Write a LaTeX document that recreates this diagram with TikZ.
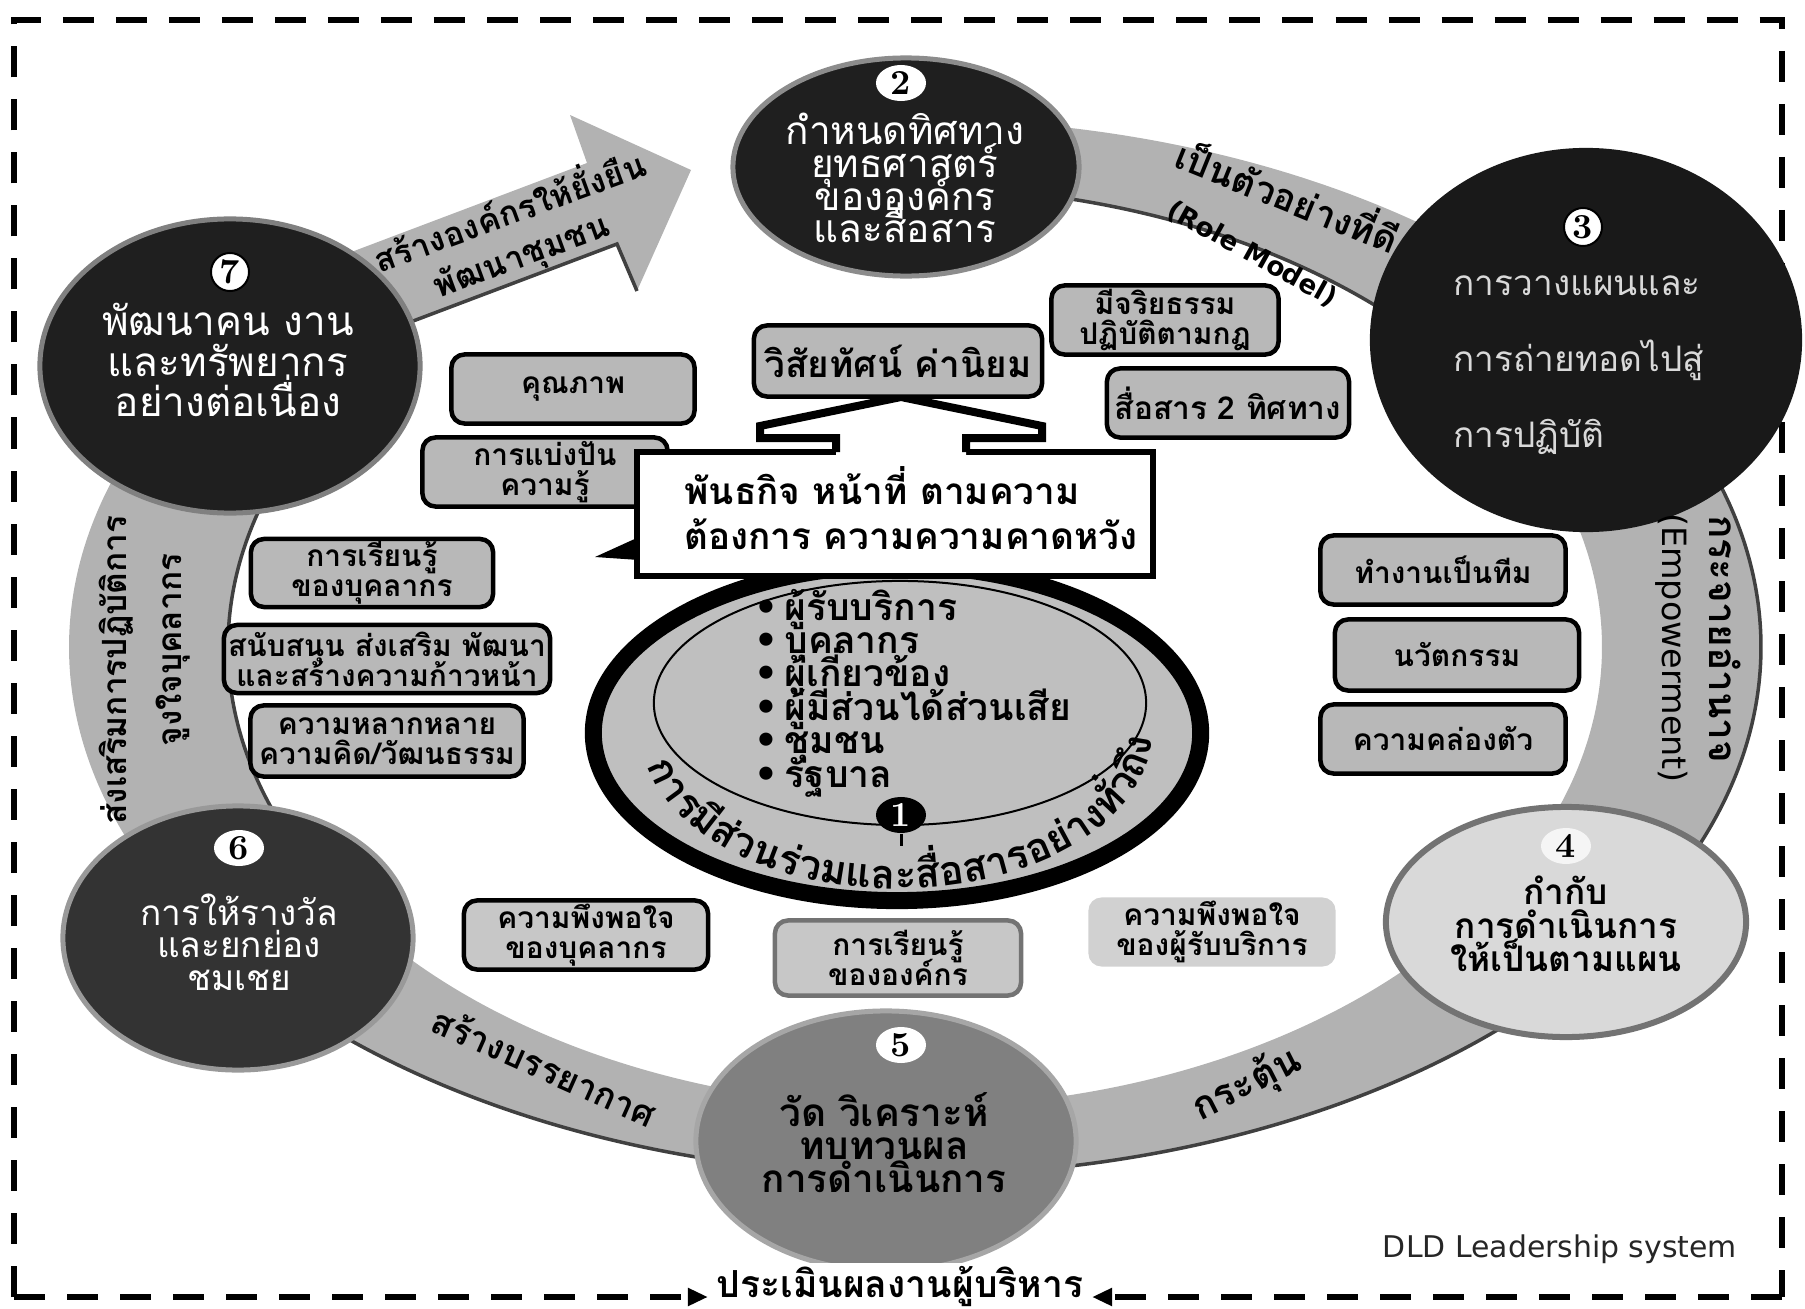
\documentclass[tikz,border=0pt]{standalone}
\usepackage{fontspec}
\newfontfamily\thai[Script=Thai]{Loma}
\newfontfamily\dejavu{DejaVu Sans}
\usetikzlibrary{shapes.geometric,calc,decorations.text,arrows.meta}
\newcommand{\fz}[2]{\fontsize{#1}{#2}\selectfont\lineskiplimit=-100pt\relax}
\newcommand{\ringband}[2]{\fill[band] (915,647) ++(#1:846 and 528) arc[start angle=#1,end angle=#2,x radius=846,y radius=528] -- ($(915,647)+(#2:687 and 460)$) arc[start angle=#2,end angle=#1,x radius=687,y radius=460] -- cycle;}
\newcommand{\outeredge}[2]{\draw[bedge] (915,647) ++(#1:846 and 528) arc[start angle=#1,end angle=#2,x radius=846,y radius=528];}
\newcommand{\inneredge}[2]{\draw[bedge] (915,647) ++(#1:687 and 460) arc[start angle=#1,end angle=#2,x radius=687,y radius=460];}
\begin{document}
\begin{tikzpicture}[x=0.01cm,y=-0.01cm,
  band/.style={fill=black!30},
  bedge/.style={draw=black!75,line width=0.035cm},
  rbox/.style={draw=black,line width=0.045cm,fill=black!28,rounded corners=0.13cm,inner sep=0pt,align=center,font=\thai\bfseries\fz{8.5}{8.5}},
  badge/.style={ellipse,fill=white,inner sep=0pt,minimum width=0.5cm,minimum height=0.36cm,font=\bfseries\fz{10}{10}},
  bigc/.style={ellipse,inner sep=0pt},
  wtext/.style={align=center,text=white},
  btext/.style={align=center},
  bdash/.style={dash pattern=on 0.31cm off 0.22cm,line width=0.06cm}
]
\useasboundingbox (0,0) rectangle (1805,1309);
% border
\draw[bdash] (14,1297) -- (14,20) -- (1782,20) -- (1782,1297);
% ring bands
\ringband{278}{330} \inneredge{278}{330}
\ringband{335}{390} \outeredge{335}{390}
\ringband{40}{100} \outeredge{40}{100}
\ringband{80}{140} \outeredge{80}{140}
\ringband{150}{215} \inneredge{150}{215}
% top-left block arrow
\fill[band] (317,265) -- (587,163) -- (570,115) -- (691,170) -- (637,291) -- (617,244) -- (347,346) -- cycle;
\draw[bedge] (347,346) -- (617,244) -- (637,291);
% node 2
\node[bigc,fill=black!88,draw=black!45,line width=0.05cm,minimum width=3.46cm,minimum height=2.18cm] (n2) at (906,167) {};
\node[badge] (b2) at (901,83) {2};
\node[wtext,font=\thai\fz{11}{9.3}] (t2) at (905,178) {กำหนดทิศทาง\\ยุทธศาสตร์\\ขององค์กร\\และสื่อสาร};
% node 7
\node[bigc,fill=black!88,draw=black!50,line width=0.05cm,minimum width=3.8cm,minimum height=2.94cm] (n7) at (230,366) {};
\node[badge,draw=black,line width=0.02cm,minimum width=0.38cm,minimum height=0.38cm] (b7) at (230,272) {7};
\node[wtext,font=\thai\fz{11.5}{11.5}] (t7) at (228,360) {พัฒนาคน งาน\\และทรัพยากร\\อย่างต่อเนื่อง};
% node 3
\node[bigc,fill=black!90,minimum width=4.32cm,minimum height=3.84cm] (n3) at (1586,340) {};
\node[badge,draw=black,line width=0.02cm,minimum width=0.38cm,minimum height=0.38cm] (b3) at (1583,227) {3};
\node[align=left,text=black!15,font=\thai\fz{10}{21.6},anchor=west,inner sep=0pt] (t3) at (1453,365) {การวางแผนและ\\การถ่ายทอดไปสู่\\การปฏิบัติ};
% node 4
\node[bigc,fill=black!15,draw=black!55,line width=0.06cm,minimum width=3.6cm,minimum height=2.3cm] (n4) at (1566,922) {};
\node[badge,fill=black!4] (b4) at (1566,846) {4};
\node[btext,font=\thai\bfseries\fz{10}{9.5}] (t4) at (1566,924) {กำกับ\\การดำเนินการ\\ให้เป็นตามแผน};
% node 5
\node[bigc,fill=black!50,draw=black!35,line width=0.05cm,minimum width=3.8cm,minimum height=2.6cm] (n5) at (886,1141) {};
\node[badge] (b5) at (901,1045) {5};
\node[btext,font=\thai\bfseries\fz{11}{9.4}] (t5) at (884,1143) {วัด วิเคราะห์\\ทบทวนผล\\การดำเนินการ};
% node 6
\node[bigc,fill=black!80,draw=black!40,line width=0.05cm,minimum width=3.5cm,minimum height=2.64cm] (n6) at (238,938) {};
\node[badge] (b6) at (239,848) {6};
\node[wtext,font=\thai\fz{10}{9.2}] (t6) at (239,942) {การให้รางวัล\\และยกย่อง\\ชมเชย};
% band texts
\node[rotate=-22,font=\thai\bfseries\fz{10.5}{10.5}] (rm1) at (1289,193) {เป็นตัวอย่างที่ดี};
\node[rotate=-29,font=\dejavu\bfseries\fz{7.5}{7.5}] (rm2) at (1252,254) {(Role Model)};
\node[rotate=-90,font=\thai\bfseries\fz{11}{11}] (em1) at (1725,639) {กระจายอำนาจ};
\node[rotate=-90,font=\dejavu\fz{9.5}{9.5}] (em2) at (1672,648) {(Empowerment)};
\node[rotate=90,font=\thai\bfseries\fz{9.5}{9.5}] (le1) at (116,670) {ส่งเสริมการปฏิบัติการ};
\node[rotate=90,font=\thai\bfseries\fz{9.5}{9.5}] (le2) at (173,650) {จูงใจบุคลากร};
\node[rotate=-24,font=\thai\bfseries\fz{10}{10}] (bl1) at (545,1066) {สร้างบรรยากาศ};
\node[rotate=27,font=\thai\bfseries\fz{11}{11}] (br1) at (1247,1085) {กระตุ้น};
\node[rotate=20,font=\thai\bfseries\fz{9.5}{9.5}] (ta1) at (508,208) {สร้างองค์กรให้ยั่งยืน};
\node[rotate=20,font=\thai\bfseries\fz{9.5}{9.5}] (ta2) at (522,258) {พัฒนาชุมชน};
% node 1
\node[bigc,draw=black,line width=0.17cm,fill=black!25,minimum width=6.07cm,minimum height=3.35cm] (n1) at (897,733) {};
\node[bigc,draw=black,line width=0.02cm,minimum width=4.92cm,minimum height=2.44cm] (n1i) at (900,703) {};
\node[anchor=west,align=left,font=\thai\bfseries\fz{10.6}{9.5}] (bul) at (742,693) {{\dejavu•}\,ผู้รับบริการ\\{\dejavu•}\,บุคลากร\\{\dejavu•}\,ผู้เกี่ยวข้อง\\{\dejavu•}\,ผู้มีส่วนได้ส่วนเสีย\\{\dejavu•}\,ชุมชน\\{\dejavu•}\,รัฐบาล};
\path[decorate,decoration={text along path,text align=fit to path,text={|\thai\bfseries\fz{11.5}{11.5}|{ก}{า}{ร}{มี}{ส่}{ว}{น}{ร่}{ว}{ม}{แ}{ล}{ะ}{สื่}{อ}{ส}{า}{ร}{อ}{ย่}{า}{ง}{ทั่}{ว}{ถึ}{ง}}}] (897,733) ++(168:255 and 156) arc[start angle=168,end angle=2,x radius=255,y radius=156];
\coordinate (b1s) at (901,846);
\node[badge,fill=black,text=white] (b1) at (901,815) {1};
\draw[line width=0.03cm] (b1) -- (b1s);
% boxes
\node[rbox,minimum width=2.27cm,minimum height=0.69cm] (eth) at (1165,320) {มีจริยธรรม\\ปฏิบัติตามกฎ};
\node[rbox,minimum width=2.42cm,minimum height=0.69cm,font=\thai\bfseries\fz{9}{9}] (com) at (1228,403) {สื่อสาร 2 ทิศทาง};
\node[rbox,minimum width=2.43cm,minimum height=0.69cm] (qua) at (573,389) {คุณภาพ};
\node[rbox,minimum width=2.45cm,minimum height=0.69cm] (sha) at (545,472) {การแบ่งปัน\\ความรู้};
\node[rbox,minimum width=2.42cm,minimum height=0.68cm] (lst) at (372,573) {การเรียนรู้\\ของบุคลากร};
\node[rbox,minimum width=3.26cm,minimum height=0.68cm] (sup) at (387,659) {สนับสนุน ส่งเสริม พัฒนา\\และสร้างความก้าวหน้า};
\node[rbox,minimum width=2.73cm,minimum height=0.71cm] (div) at (387,741) {ความหลากหลาย\\ความคิด/วัฒนธรรม};
\node[rbox,minimum width=2.45cm,minimum height=0.69cm] (tea) at (1443,570) {ทำงานเป็นทีม};
\node[rbox,minimum width=2.44cm,minimum height=0.71cm] (inn) at (1457,655) {นวัตกรรม};
\node[rbox,minimum width=2.45cm,minimum height=0.69cm] (agi) at (1443,739) {ความคล่องตัว};
\node[rbox,minimum width=2.44cm,minimum height=0.69cm,fill=black!22] (sst) at (586,935) {ความพึงพอใจ\\ของบุคลากร};
\node[rbox,minimum width=2.46cm,minimum height=0.75cm,fill=black!22,draw=black!55] (lor) at (898,958) {การเรียนรู้\\ขององค์กร};
\node[rbox,minimum width=2.47cm,minimum height=0.69cm,fill=black!18,draw=none] (scu) at (1212,932) {ความพึงพอใจ\\ของผู้รับบริการ};
% callout
\node[draw=black,line width=0.06cm,fill=white,minimum width=5.16cm,minimum height=1.24cm,inner sep=0pt] (cb) at (895,514) {};
\fill[white] (836,456) -- (836,438) -- (760,438) -- (760,426) -- (901,397) -- (1042,426) -- (1042,438) -- (966,438) -- (966,456) -- cycle;
\draw[line width=0.08cm,line join=miter] (836,452) -- (836,438) -- (760,438) -- (760,426) -- (901,397) -- (1042,426) -- (1042,438) -- (966,438) -- (966,452);
\fill (639,537) -- (595,557) -- (639,560) -- cycle;
\node[anchor=west,align=left,font=\thai\bfseries\fz{10.5}{13}] (ct) at (672,508) {พันธกิจ หน้าที่ ตามความ\\ต้องการ ความความคาดหวัง};
\node[rbox,minimum width=2.88cm,minimum height=0.71cm,font=\thai\bfseries\fz{10.5}{10.5}] (vis) at (898,361) {วิสัยทัศน์ ค่านิยม};
% bottom
\node[fill=white,font=\thai\bfseries\fz{10.6}{10.6},inner sep=0.03cm] (ev) at (900,1286) {ประเมินผลงานผู้บริหาร};
\coordinate (bl0) at (14,1297);
\coordinate (br0) at (1782,1297);
\draw[bdash,-{Triangle[length=0.2cm,width=0.17cm]}] (bl0) -- ([xshift=-0.05cm]ev.west |- bl0);
\draw[bdash,-{Triangle[length=0.2cm,width=0.17cm]}] (br0) -- ([xshift=0.05cm]ev.east |- br0);
\node[font=\dejavu\fz{8.5}{8.5},text=black!85] (dld) at (1560,1249) {DLD Leadership system};
\end{tikzpicture}
\end{document}
